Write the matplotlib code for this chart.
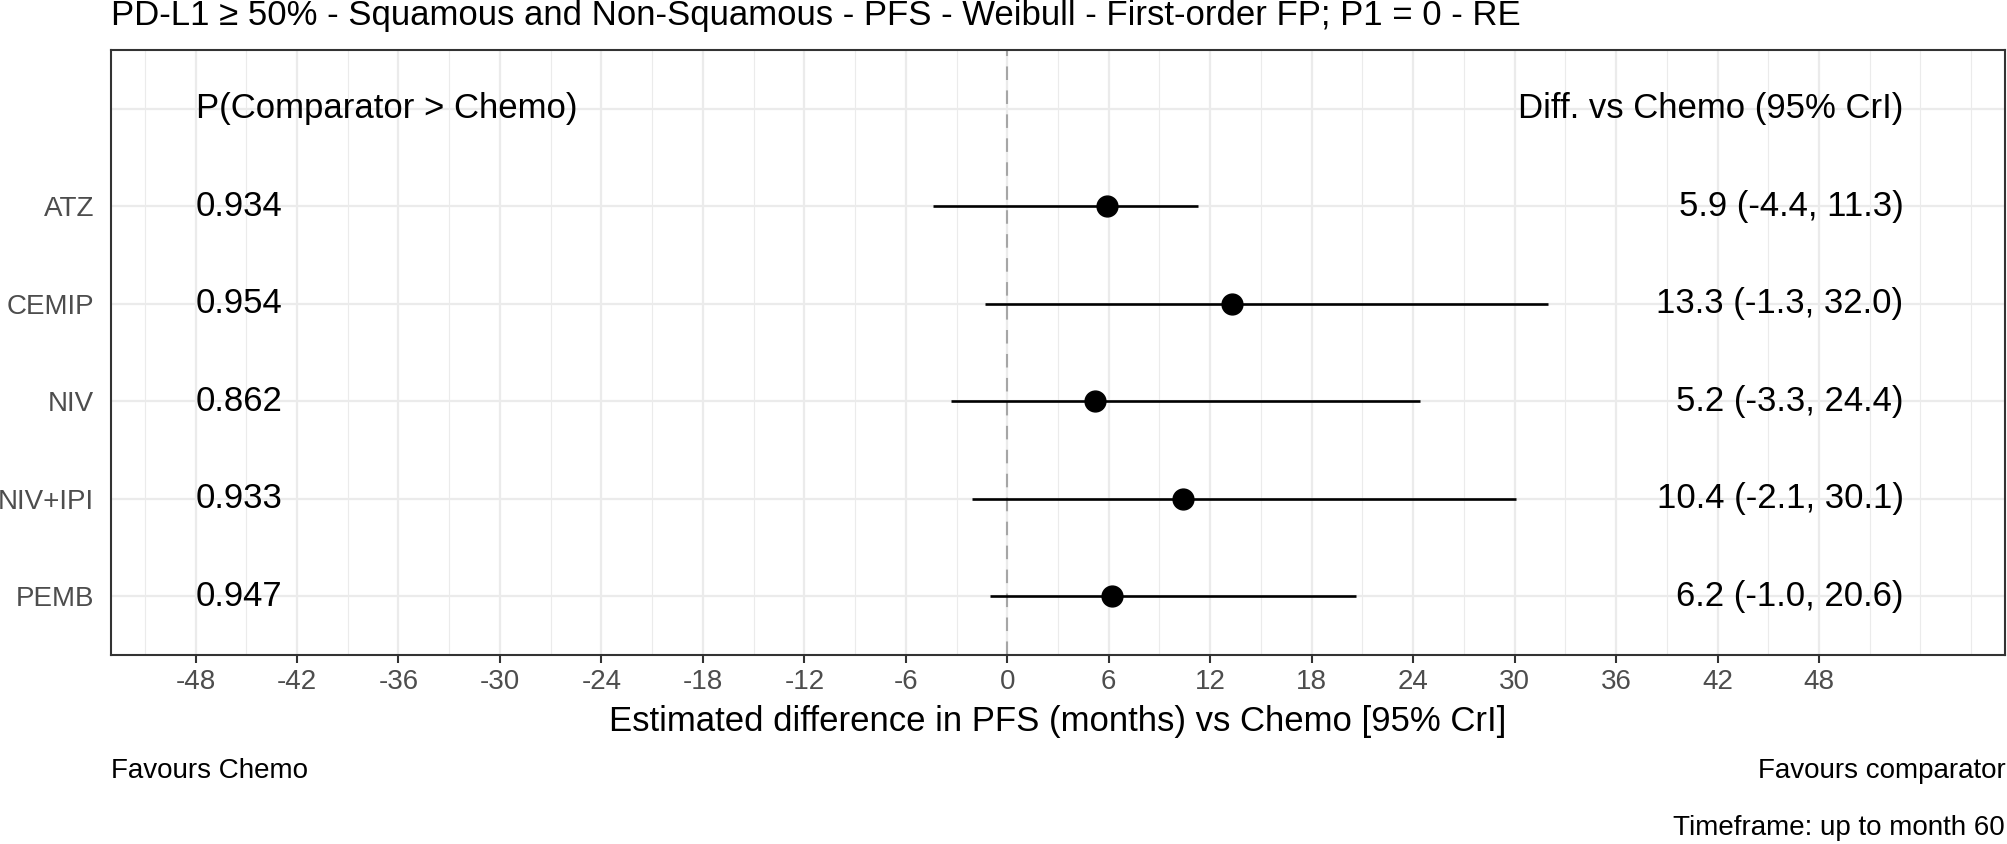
import matplotlib
matplotlib.use("Agg")
import matplotlib.pyplot as plt
from matplotlib.ticker import MultipleLocator

plt.rcParams['font.family'] = ['Liberation Sans', 'DejaVu Sans']

treatments = ["ATZ", "CEMIP", "NIV", "NIV+IPI", "PEMB"]
estimates = [5.9, 13.3, 5.2, 10.4, 6.2]
lower = [-4.4, -1.3, -3.3, -2.1, -1.0]
upper = [11.3, 32.0, 24.4, 30.1, 20.6]
probs = ["0.934", "0.954", "0.862", "0.933", "0.947"]
diff_labels = ["5.9 (-4.4, 11.3)", "13.3 (-1.3, 32.0)", "5.2 (-3.3, 24.4)",
               "10.4 (-2.1, 30.1)", "6.2 (-1.0, 20.6)"]
x_ticks = [-48, -42, -36, -30, -24, -18, -12, -6, 0, 6, 12, 18, 24, 30, 36, 42, 48]
title = "PD-L1 \u2265 50% - Squamous and Non-Squamous - PFS - Weibull - First-order FP; P1 = 0 - RE"
prob_header = "P(Comparator > Chemo)"
diff_header = "Diff. vs Chemo (95% CrI)"
xlabel = "Estimated difference in PFS (months) vs Chemo [95% CrI]"

W, H = 2008, 844
fig = plt.figure(figsize=(W / 100, H / 100), dpi=100)
left, right, top, bottom = 111 / W, 2005 / W, 1 - 50 / H, 1 - 655 / H
ax = fig.add_axes([left, bottom, right - left, top - bottom])

n = len(treatments)
ypos = [n - i for i in range(n)]  # ATZ top, PEMB bottom
header_y = n + 1

ax.set_xlim(-53.0, 59.0)
ax.set_ylim(0.4, n + 1.6)

ax.set_xticks(x_ticks)
ax.set_xticklabels([str(t) for t in x_ticks])
ax.xaxis.set_minor_locator(MultipleLocator(3))
ax.set_yticks(ypos + [header_y])
ax.set_yticklabels(treatments + [""])

ax.grid(which='major', axis='both', color='#EBEBEB', linewidth=1.6, zorder=0)
ax.grid(which='minor', axis='x', color='#EBEBEB', linewidth=0.85, zorder=0)
ax.set_axisbelow(True)

ax.axvline(0, color='#A6A6A6', linestyle=(0, (6.5, 5)), linewidth=1.5, zorder=1)

for y, lo, hi in zip(ypos, lower, upper):
    ax.hlines(y, lo, hi, color='black', linewidth=1.9, zorder=2)
ax.plot(estimates, ypos, 'o', color='black', markersize=15, zorder=3)

big = 25
small = 20
ax.text(-48, header_y, prob_header, ha='left', va='center', fontsize=big)
ax.text(53, header_y, diff_header, ha='right', va='center', fontsize=big)
for y, p, d in zip(ypos, probs, diff_labels):
    ax.text(-48, y, p, ha='left', va='center', fontsize=big)
    ax.text(53, y, d, ha='right', va='center', fontsize=big)

for sp in ax.spines.values():
    sp.set_color('#333333')
    sp.set_linewidth(1.5)

ax.tick_params(axis='x', which='major', length=6, width=1.5, color='#333333',
               labelcolor='#4D4D4D', labelsize=small, pad=4)
ax.tick_params(axis='x', which='minor', length=0)
ax.tick_params(axis='y', which='both', length=0, labelcolor='#4D4D4D',
               labelsize=small, pad=12)

ax.set_xlabel(xlabel, fontsize=big)
ax.xaxis.label.set_va('baseline')
ax.xaxis.set_label_coords(0.5, -(731 - 655) / (655 - 50))

fig.text(left, 1 - 25 / H, title, ha='left', va='baseline', fontsize=big)
fig.text(left, 1 - 778 / H, "Favours Chemo", ha='left', va='baseline', fontsize=small)
fig.text(2006 / W, 1 - 778 / H, "Favours comparator", ha='right', va='baseline', fontsize=small)
fig.text(2005 / W, 1 - 835 / H, "Timeframe: up to month 60", ha='right', va='baseline', fontsize=small)

fig.savefig("out.png", dpi=100)
